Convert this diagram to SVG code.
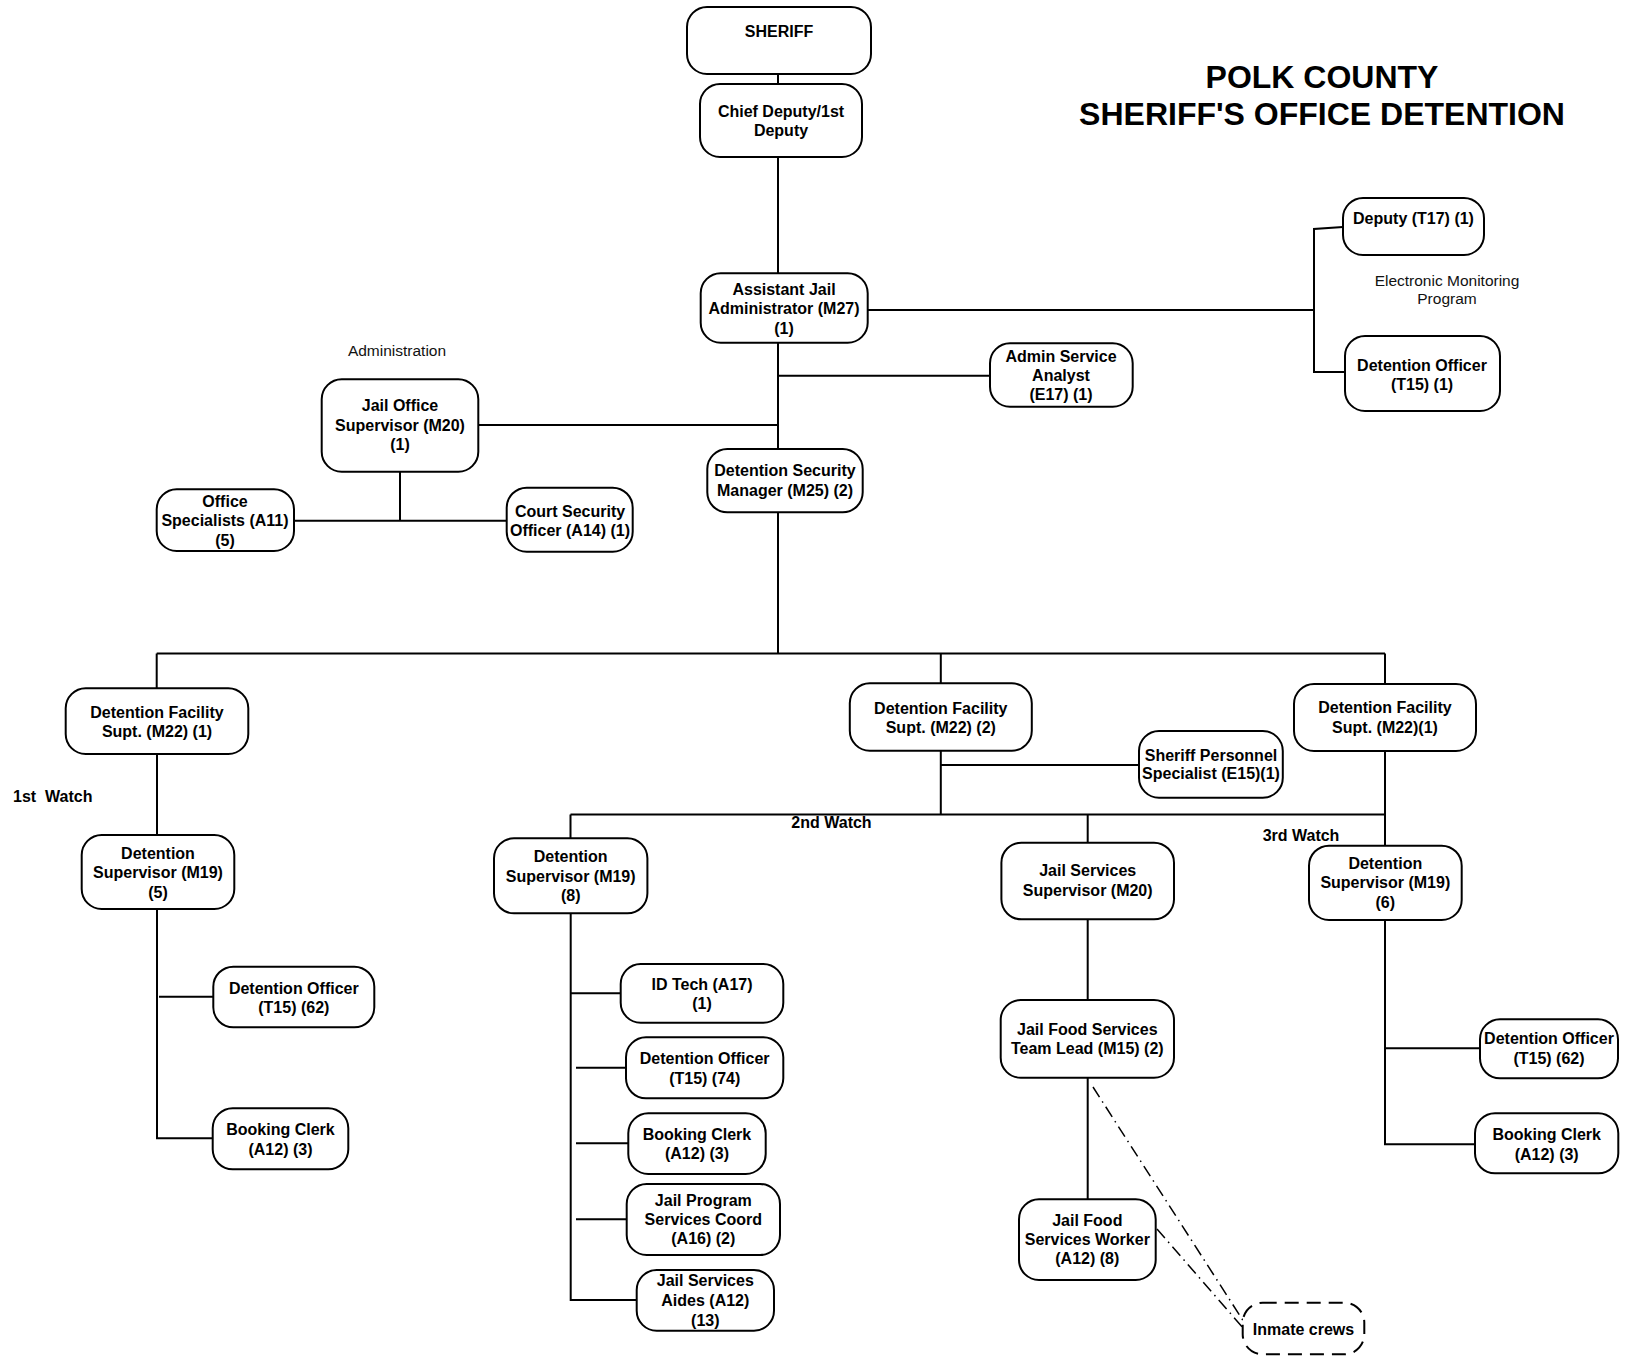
<svg xmlns="http://www.w3.org/2000/svg" width="1627" height="1356" viewBox="0 0 1627 1356">
<style>
.n rect{fill:#fff;stroke:#000;stroke-width:2}
.n text,.lb{font-family:"Liberation Sans",Arial,sans-serif;font-size:16px;font-weight:bold;text-anchor:middle;fill:#000}
.rg{font-family:"Liberation Sans",Arial,sans-serif;font-size:15.5px;text-anchor:middle;fill:#111}
.ttl{font-family:"Liberation Sans",Arial,sans-serif;font-size:32px;font-weight:bold;text-anchor:middle;fill:#000}
#connectors path{fill:none;stroke:#000;stroke-width:2}
#connectors .dd{stroke-width:1.5;stroke-dasharray:12 5 1.5 5}
</style>
<rect width="1627" height="1356" fill="#fff"/>
<g id="connectors">
<path d="M778 74V84M778 157V273M778 342.7V449M778 375.7H990M478.3 425H778M867.7 310H1314M1343 227L1314 229V372H1345"/>
<path d="M400 471.7V521M294 520.7H506.7"/>
<path d="M778 512.3V653.5M156.7 653.5H1385M156.7 653.5V688.3M940.8 653.5V683.3M1385 653.5V684"/>
<path d="M157 754V835M157 909V1138.3H212.7M159 996.7H213.3"/>
<path d="M940.8 750.7V814.5M940.8 765H1139M570.5 814.5H1385M570.5 814.5V838.3M1087.7 814.5V842.7M1385 751V845.7"/>
<path d="M570.7 913.3V1300H636.7M570.7 993.3H620.7M576 1067.7H626M576 1143.3H628.3M576 1219.3H626.7"/>
<path d="M1087.7 919.3V1000M1087.7 1077.7V1199.3"/>
<path d="M1385 920V1144.3H1475M1385 1048.3H1480"/>
<path class="dd" d="M1093 1087L1244 1322M1157 1229L1244 1329"/>
</g>
<text class="ttl" x="1322" y="88">POLK COUNTY</text>
<text class="ttl" x="1322" y="125">SHERIFF'S OFFICE DETENTION</text>
<text class="rg" x="397" y="356">Administration</text>
<text class="rg" x="1447" y="286">Electronic Monitoring</text>
<text class="rg" x="1447" y="304">Program</text>
<text class="lb" x="13" y="802" style="text-anchor:start;white-space:pre">1st  Watch</text>
<text class="lb" x="831.5" y="828">2nd Watch</text>
<text class="lb" x="1301" y="841">3rd Watch</text>
<g id="sheriff" class="n"><rect x="687" y="7" width="184" height="67" rx="20"/><text x="779" y="37">SHERIFF</text></g>
<g id="chief" class="n"><rect x="700" y="84" width="162" height="73" rx="20"/><text x="781" y="116.5">Chief Deputy/1st</text><text x="781" y="135.5">Deputy</text></g>
<g id="asst" class="n"><rect x="700.7" y="273.3" width="167" height="69.4" rx="20"/><text x="784" y="295">Assistant Jail</text><text x="784" y="314">Administrator (M27)</text><text x="784" y="334">(1)</text></g>
<g id="analyst" class="n"><rect x="990" y="343.3" width="142.7" height="63.4" rx="20"/><text x="1061" y="361.5">Admin Service</text><text x="1061" y="380.5">Analyst</text><text x="1061" y="400">(E17) (1)</text></g>
<g id="dsm" class="n"><rect x="707.3" y="449" width="155.4" height="63.3" rx="20"/><text x="785" y="476">Detention Security</text><text x="785" y="495.5">Manager (M25) (2)</text></g>
<g id="jailoffice" class="n"><rect x="321.7" y="379.3" width="156.6" height="92.4" rx="20"/><text x="400" y="411">Jail Office</text><text x="400" y="430.5">Supervisor (M20)</text><text x="400" y="450">(1)</text></g>
<g id="officespec" class="n"><rect x="156.7" y="489.3" width="137.3" height="61.7" rx="20"/><text x="225" y="506.5">Office</text><text x="225" y="526">Specialists (A11)</text><text x="225" y="545.5">(5)</text></g>
<g id="courtsec" class="n"><rect x="506.7" y="487.7" width="126" height="64" rx="20"/><text x="570" y="516.5">Court Security</text><text x="570" y="535.5">Officer (A14) (1)</text></g>
<g id="deputy" class="n"><rect x="1343" y="198" width="141" height="57" rx="20"/><text x="1413.5" y="223.5">Deputy (T17) (1)</text></g>
<g id="emdo" class="n"><rect x="1345" y="336" width="155" height="75" rx="20"/><text x="1422" y="371">Detention Officer</text><text x="1422" y="389.5">(T15) (1)</text></g>
<g id="dfs1" class="n"><rect x="65.7" y="688.3" width="182.6" height="65.7" rx="20"/><text x="157" y="718">Detention Facility</text><text x="157" y="737">Supt. (M22) (1)</text></g>
<g id="dfs2" class="n"><rect x="849.8" y="683.3" width="182" height="67.4" rx="20"/><text x="940.8" y="714">Detention Facility</text><text x="940.8" y="733">Supt. (M22) (2)</text></g>
<g id="dfs3" class="n"><rect x="1294" y="684" width="182" height="67" rx="20"/><text x="1385" y="713">Detention Facility</text><text x="1385" y="732.5">Supt. (M22)(1)</text></g>
<g id="persspec" class="n"><rect x="1139" y="731" width="143.8" height="66.7" rx="20"/><text x="1211" y="761">Sheriff Personnel</text><text x="1211" y="779">Specialist (E15)(1)</text></g>
<g id="ds5" class="n"><rect x="81.7" y="835" width="152.6" height="74" rx="20"/><text x="158" y="859">Detention</text><text x="158" y="878">Supervisor (M19)</text><text x="158" y="898">(5)</text></g>
<g id="ds8" class="n"><rect x="494" y="838.3" width="153.4" height="75" rx="20"/><text x="570.7" y="862">Detention</text><text x="570.7" y="881.5">Supervisor (M19)</text><text x="570.7" y="901">(8)</text></g>
<g id="jss" class="n"><rect x="1001.4" y="842.7" width="172.6" height="76.6" rx="20"/><text x="1087.7" y="876">Jail Services</text><text x="1087.7" y="895.5">Supervisor (M20)</text></g>
<g id="ds6" class="n"><rect x="1309" y="845.7" width="152.7" height="74.3" rx="20"/><text x="1385.3" y="869">Detention</text><text x="1385.3" y="888">Supervisor (M19)</text><text x="1385.3" y="907.5">(6)</text></g>
<g id="do62a" class="n"><rect x="213.3" y="966.7" width="161" height="60.6" rx="20"/><text x="293.8" y="994">Detention Officer</text><text x="293.8" y="1013">(T15) (62)</text></g>
<g id="bc1" class="n"><rect x="212.7" y="1108.3" width="135.6" height="61" rx="20"/><text x="280.5" y="1135">Booking Clerk</text><text x="280.5" y="1155">(A12) (3)</text></g>
<g id="idtech" class="n"><rect x="620.7" y="964" width="162.6" height="58.7" rx="20"/><text x="702" y="990">ID Tech (A17)</text><text x="702" y="1009">(1)</text></g>
<g id="do74" class="n"><rect x="626" y="1037.3" width="157.3" height="61" rx="20"/><text x="704.7" y="1064">Detention Officer</text><text x="704.7" y="1084">(T15) (74)</text></g>
<g id="bc2" class="n"><rect x="628.3" y="1113.3" width="137.4" height="60.7" rx="20"/><text x="697" y="1139.5">Booking Clerk</text><text x="697" y="1159">(A12) (3)</text></g>
<g id="jpsc" class="n"><rect x="626.7" y="1184" width="153.3" height="71" rx="20"/><text x="703.3" y="1205.5">Jail Program</text><text x="703.3" y="1225">Services Coord</text><text x="703.3" y="1244">(A16) (2)</text></g>
<g id="jsa" class="n"><rect x="636.7" y="1270" width="137.3" height="60.7" rx="20"/><text x="705.3" y="1286">Jail Services</text><text x="705.3" y="1305.5">Aides (A12)</text><text x="705.3" y="1325.5">(13)</text></g>
<g id="teamlead" class="n"><rect x="1000.7" y="1000" width="173.3" height="77.7" rx="20"/><text x="1087.3" y="1035">Jail Food Services</text><text x="1087.3" y="1054">Team Lead (M15) (2)</text></g>
<g id="worker" class="n"><rect x="1019" y="1199.3" width="136.7" height="80.7" rx="20"/><text x="1087.3" y="1226">Jail Food</text><text x="1087.3" y="1245">Services Worker</text><text x="1087.3" y="1264">(A12) (8)</text></g>
<g id="inmate" class="n"><rect x="1242.7" y="1302.7" width="121.6" height="51.6" rx="20" style="stroke-dasharray:14 8"/><text x="1303.5" y="1335">Inmate crews</text></g>
<g id="do62b" class="n"><rect x="1480" y="1019.3" width="138" height="59" rx="20"/><text x="1549" y="1044">Detention Officer</text><text x="1549" y="1064">(T15) (62)</text></g>
<g id="bc3" class="n"><rect x="1475" y="1113.3" width="143.3" height="60" rx="20"/><text x="1546.7" y="1139.5">Booking Clerk</text><text x="1546.7" y="1159.5">(A12) (3)</text></g>
</svg>
